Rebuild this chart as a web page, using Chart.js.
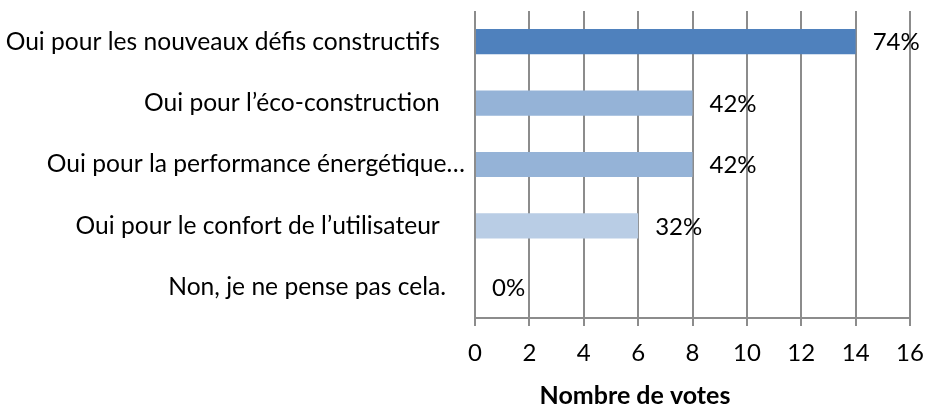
<!DOCTYPE html>
<html>
<head>
<meta charset="utf-8">
<script src="https://cdn.jsdelivr.net/npm/chart.js@4"></script>
<style>
  body { margin: 0; background: #fff; }
  #wrap { width: 926px; height: 408px; }
</style>
</head>
<body>
<div id="wrap"><canvas id="myChart" width="926" height="408"></canvas></div>
<script>
'use strict';

// data (labels keep the trailing spaces of the source sheet)
let categories = [
  'Oui pour les nouveaux défis constructifs    ',
  'Oui pour l’éco-construction    ',
  'Oui pour la performance énergétique…',
  'Oui pour le confort de l’utilisateur    ',
  'Non, je ne pense pas cela.   '
];
let votes = [14, 8, 8, 6, 0];
let percentLabels = ['74%', '42%', '42%', '32%', '0%'];
let barColors = ['#4F81BD', '#95B3D7', '#95B3D7', '#B9CDE5', '#B9CDE5'];
let xTicks = [0, 2, 4, 6, 8, 10, 12, 14, 16];
let axisTitle = 'Nombre de votes';

let fontFamily = 'Lato, "Open Sans", sans-serif';
let fontSize = 24.6;

// draws the % text after each bar
let percentPlugin = {
  id: 'percentText',
  afterDatasetsDraw(chart) {
    let ctx = chart.ctx;
    let meta = chart.getDatasetMeta(0);
    ctx.save();
    ctx.font = '24px ' + fontFamily;
    ctx.fillStyle = '#000';
    ctx.textAlign = 'left';
    ctx.textBaseline = 'middle';
    for (let i = 0; i < meta.data.length; i++) {
      let bar = meta.data[i];
      ctx.fillText(percentLabels[i], bar.x + 17, bar.y + 1);
    }
    ctx.restore();
  }
};

// axis title sits left of the axis centre, like the original sheet
let titlePlugin = {
  id: 'axisTitle',
  afterDraw(chart) {
    let ctx = chart.ctx;
    ctx.save();
    ctx.font = 'bold 25px ' + fontFamily;
    ctx.fillStyle = '#000';
    ctx.textAlign = 'center';
    ctx.textBaseline = 'middle';
    ctx.fillText(axisTitle, chart.chartArea.left + 160, chart.height - 12);
    ctx.restore();
  }
};

const ctx = document.getElementById('myChart');
Chart.defaults.color = '#000';
Chart.defaults.font.family = fontFamily;
Chart.defaults.font.size = fontSize;

new Chart(ctx, {
  type: 'bar',
  data: {
    labels: categories,
    datasets: [{
      data: votes,
      backgroundColor: barColors,
      borderWidth: 0,
      barPercentage: 0.41,
      categoryPercentage: 1
    }]
  },
  options: {
    indexAxis: 'y',
    responsive: false,
    animation: false,
    layout: { padding: { top: 11, right: 16, left: 0, bottom: 0 } },
    plugins: {
      legend: { display: false },
      tooltip: { enabled: false }
    },
    scales: {
      x: {
        min: 0,
        max: 16,
        afterBuildTicks(scale) {
          scale.ticks = xTicks.map(v => ({ value: v }));
        },
        afterFit(scale) {
          scale.height = 90;
          scale.paddingLeft = 0;
          scale.paddingRight = 0;
        },
        grid: {
          color: '#8c8c8c',
          lineWidth: 2,
          drawTicks: true,
          tickLength: 8,
          tickColor: '#8c8c8c'
        },
        border: { display: true, color: '#8c8c8c', width: 2 },
        ticks: { padding: 13, color: '#000', font: { size: 24 } }
      },
      y: {
        afterFit(scale) {
          scale.width = 475;
          scale.paddingTop = 0;
          scale.paddingBottom = 0;
        },
        grid: { display: false, drawTicks: false },
        border: { display: false },
        ticks: { padding: 10, color: '#000' }
      }
    }
  },
  plugins: [percentPlugin, titlePlugin]
});
</script>
</body>
</html>
